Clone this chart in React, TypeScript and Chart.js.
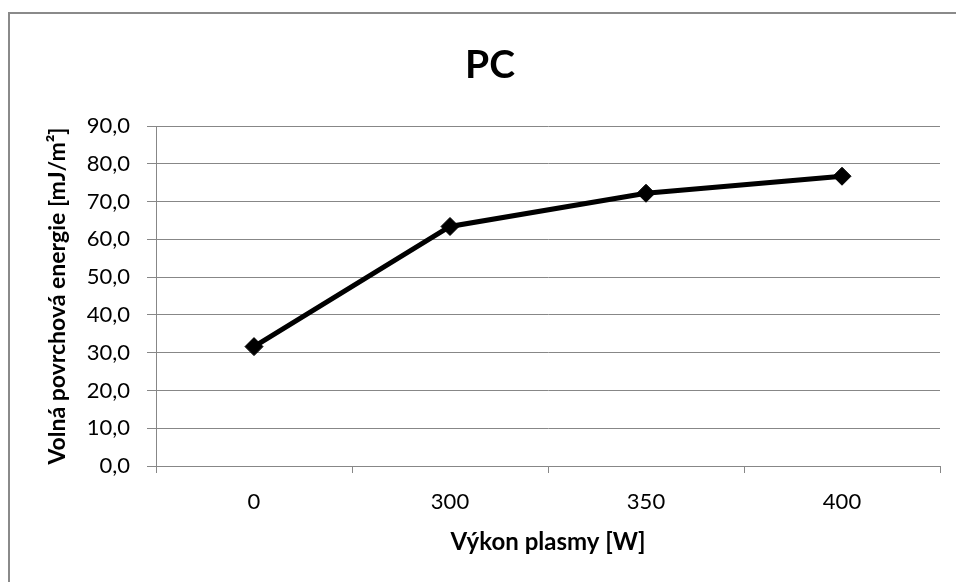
import React, { useEffect, useRef } from "react";
import { Chart, registerables } from "chart.js";

Chart.register(...registerables);

const categories = ["0", "300", "350", "400"];
const energyValues = [31.6, 63.4, 72.2, 76.7];
const chartTitle = "PC";
const xTitle = "Výkon plasmy [W]";
const yTitle = "Volná povrchová energie [mJ/m²]";
const yMin = 0;
const yMax = 90;
const yStep = 10;

const FONT = "Lato, 'Open Sans', sans-serif";
const GRID = "#878787";

const framePlugin = {
  id: "frame",
  beforeDraw(chart: any) {
    const ctx = chart.ctx;
    ctx.save();
    ctx.strokeStyle = "#8a8a8a";
    ctx.lineWidth = 2;
    ctx.beginPath();
    ctx.moveTo(9, chart.height);
    ctx.lineTo(9, 13);
    ctx.lineTo(chart.width, 13);
    ctx.stroke();
    ctx.restore();
  },
  afterDraw(chart: any) {
    const ctx = chart.ctx;
    ctx.save();
    ctx.fillStyle = "#000";
    ctx.font = `bold 39px ${FONT}`;
    ctx.textAlign = "center";
    ctx.textBaseline = "alphabetic";
    ctx.fillText(chartTitle, chart.width / 2 + 12, 78);
    ctx.restore();
  },
};

export default function App() {
  const ref = useRef<HTMLCanvasElement | null>(null);

  useEffect(() => {
    if (!ref.current) return;
    const chart = new Chart(ref.current, {
      type: "line",
      data: {
        labels: categories,
        datasets: [
          {
            data: energyValues,
            borderColor: "#000",
            backgroundColor: "#000",
            borderWidth: 5,
            pointStyle: "rectRot",
            pointRadius: 9,
            pointBorderWidth: 1,
            pointBackgroundColor: "#000",
            pointBorderColor: "#000",
            tension: 0,
          },
        ],
      },
      options: {
        responsive: false,
        animation: false,
        layout: { padding: { left: 0, right: 16, top: 126, bottom: 0 } },
        plugins: {
          legend: { display: false },
          title: { display: false },
          tooltip: { enabled: false },
        },
        scales: {
          x: {
            type: "category",
            offset: true,
            afterFit: (scale: any) => {
              scale.height = 116;
            },
            grid: {
              offset: true,
              drawOnChartArea: false,
              drawTicks: true,
              tickLength: 7,
              color: GRID,
              lineWidth: 1,
            },
            border: { color: GRID, width: 1 },
            ticks: {
              color: "#000",
              font: { family: FONT, size: 22 },
              padding: 16,
              maxRotation: 0,
            },
            title: {
              display: true,
              text: xTitle,
              color: "#000",
              font: { family: FONT, size: 24, weight: "bold" },
              padding: { top: 0, bottom: 25 },
            },
          },
          y: {
            min: yMin,
            max: yMax,
            afterFit: (scale: any) => {
              scale.width = 156;
            },
            grid: {
              drawTicks: true,
              tickLength: 9,
              color: GRID,
              lineWidth: 1,
            },
            border: { color: GRID, width: 1 },
            ticks: {
              stepSize: yStep,
              color: "#000",
              font: { family: FONT, size: 22 },
              padding: 17,
              callback: (v: any) => Number(v).toFixed(1).replace(".", ","),
            },
            title: {
              display: true,
              text: yTitle,
              color: "#000",
              font: { family: FONT, size: 23, weight: "bold" },
              padding: { top: 44, bottom: 0 },
            },
          },
        },
      },
      plugins: [framePlugin],
    });
    return () => chart.destroy();
  }, []);

  return (
    <div style={{ position: "fixed", left: 0, top: 0, width: 956, height: 582, background: "#fff" }}>
      <canvas ref={ref} width={956} height={582} />
    </div>
  );
}
